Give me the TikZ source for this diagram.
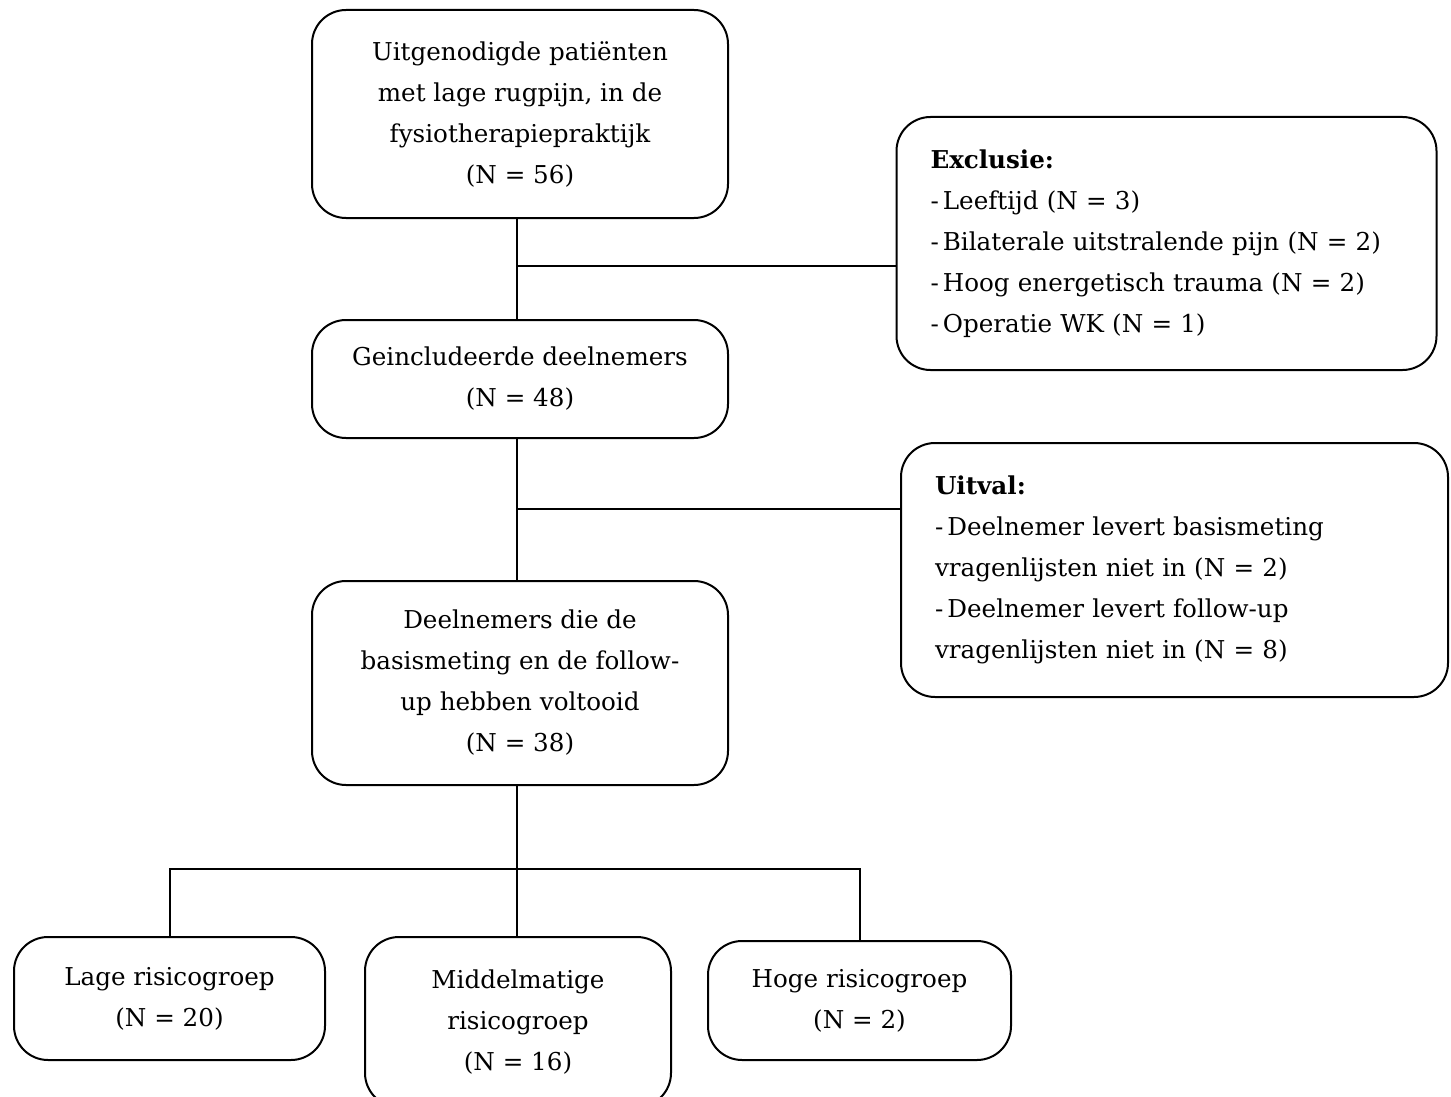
\documentclass[tikz,border=0pt]{standalone}
\usepackage{fontspec}
\setmainfont{DejaVu Serif}
\usetikzlibrary{positioning}

\tikzset{
  flowbox/.style={draw, line width=1pt, rounded corners=17pt, align=center,
    inner sep=0pt, font=\fontsize{12.3}{20.5}\selectfont},
  listbox/.style={flowbox, align=left, inner xsep=17pt},
}

\begin{document}
\begin{tikzpicture}[x=0.5pt, y=-0.5pt, line width=1pt]
  \useasboundingbox (0,0) rectangle (1451,1097);

  % main column
  \node[flowbox, minimum width=208pt, minimum height=104pt] (invited) at (520,114)
    {Uitgenodigde patiënten\\met lage rugpijn, in de\\fysiotherapiepraktijk\\(N = 56)};
  \node[flowbox, minimum width=208pt, minimum height=59pt] (included) at (520,379)
    {Geincludeerde deelnemers\\(N = 48)};
  \node[flowbox, minimum width=208pt, minimum height=102pt] (completed) at (520,683)
    {Deelnemers die de\\basismeting en de follow-\\up hebben voltooid\\(N = 38)};

  % side boxes
  \node[listbox, text width=236pt, minimum height=126.5pt] (exclusion) at (1166.5,243.5)
    {\textbf{Exclusie:}\\-\,Leeftijd (N = 3)\\-\,Bilaterale uitstralende pijn (N = 2)\\-\,Hoog energetisch trauma (N = 2)\\-\,Operatie WK (N = 1)};
  \node[listbox, text width=239.5pt, minimum height=127pt] (dropout) at (1174.5,570)
    {\textbf{Uitval:}\\-\,Deelnemer levert basismeting\\vragenlijsten niet in (N = 2)\\-\,Deelnemer levert follow-up\\vragenlijsten niet in (N = 8)};

  % risk groups
  \node[flowbox, minimum width=155.5pt, minimum height=61.5pt] (low) at (169.5,998.5)
    {Lage risicogroep\\(N = 20)};
  \node[flowbox, minimum width=153pt, minimum height=85pt] (medium) at (518,1022)
    {Middelmatige\\risicogroep\\(N = 16)};
  \node[flowbox, minimum width=151.5pt, minimum height=59.5pt] (high) at (859.5,1000.5)
    {Hoge risicogroep\\(N = 2)};

  \coordinate (exclsplit) at (517,266);
  \coordinate (dropsplit) at (517,509);
  \coordinate (groupsplit) at (517,869);

  \draw (invited.south -| exclsplit) -- (included.north -| exclsplit);
  \draw (exclsplit) -- (exclsplit -| exclusion.west);
  \draw (included.south -| dropsplit) -- (completed.north -| dropsplit);
  \draw (dropsplit) -- (dropsplit -| dropout.west);
  \draw (completed.south -| groupsplit) -- (medium.north -| groupsplit);
  \draw (low.north) -- (low.north |- groupsplit) -- (high.north |- groupsplit) -- (high.north);

\end{tikzpicture}
\end{document}
